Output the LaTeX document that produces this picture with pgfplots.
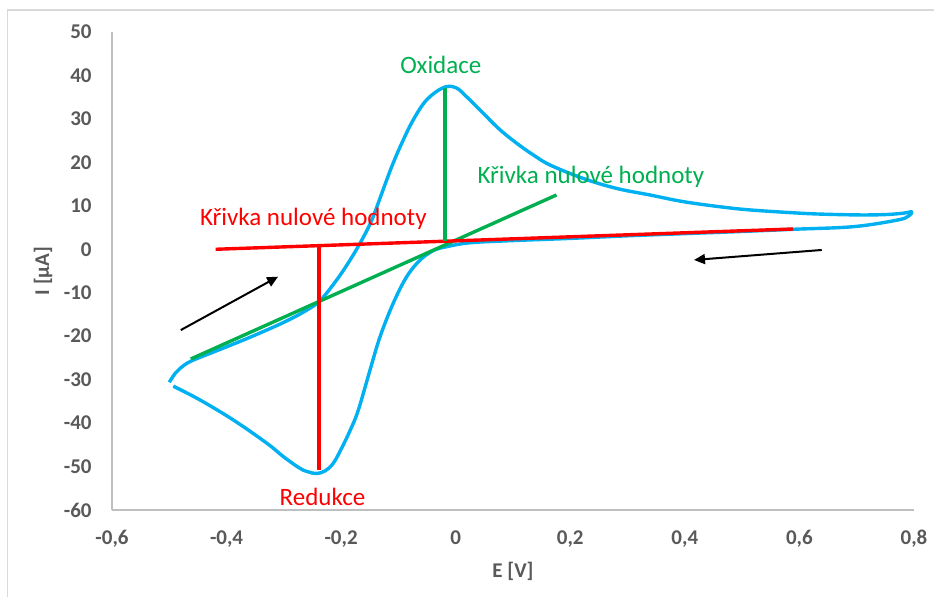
\documentclass[border=0pt]{standalone}
\usepackage{pgfplots}
\pgfplotsset{compat=1.18}
\usepackage{pgfplotstable}
\usepackage{fontspec}
\setmainfont{Carlito}
\usetikzlibrary{arrows.meta}

\definecolor{cvblue}{HTML}{00B0F0}
\definecolor{basegreen}{HTML}{00B050}
\definecolor{basered}{HTML}{FF0000}
\definecolor{ticktext}{HTML}{595959}
\definecolor{axisgrey}{HTML}{BFBFBF}
\definecolor{framegrey}{HTML}{D9D9D9}

% cyclic voltammogram: forward scan (upper branch) then reverse scan (lower branch)
\pgfplotstableread{
E I
-0.500 -30.6
-0.490 -28.6
-0.481 -27.4
-0.463 -25.8
-0.420 -23.5
-0.360 -20.3
-0.300 -16.8
-0.260 -14.0
-0.236 -11.7
-0.208 -7.1
-0.1845 -2.5
-0.164 2.1
-0.1466 6.7
-0.129 12.9
-0.1117 19.0
-0.0942 24.4
-0.074 29.8
-0.0506 34.4
-0.0216 37.2
0.000 37.2
0.019 35.1
0.048 31.3
0.0773 27.5
0.1065 24.4
0.1355 21.7
0.1646 19.4
0.2227 16.3
0.281 14.0
0.339 12.5
0.400 10.9
0.473 9.6
0.519 9.0
0.589 8.4
0.636 8.1
0.706 7.9
0.752 8.0
0.781 8.3
0.796 8.6
0.790 7.6
0.770 6.7
0.694 5.2
0.589 4.6
0.500 4.1
0.400 3.6
0.300 3.1
0.200 2.5
0.100 2.0
0.025 1.5
-0.0157 0.6
-0.039 -0.3
-0.0623 -2.5
-0.0855 -6.3
-0.109 -12.4
-0.132 -20.1
-0.1496 -27.8
-0.170 -37.0
-0.184 -41.6
-0.200 -46.0
-0.214 -49.3
-0.228 -51.0
-0.243 -51.6
-0.258 -51.2
-0.272 -50.4
-0.300 -47.8
-0.330 -44.6
-0.388 -39.3
-0.446 -34.7
-0.493 -31.5
}\cvdata

\begin{document}
\begin{tikzpicture}[x=1pt,y=1pt]
\useasboundingbox (-56,-43) rectangle (411,255);
% chart area frame
\draw[framegrey, line width=0.6pt] (-52.3,-60) -- (-52.3,250) -- (430,250);
\begin{axis}[
  at={(0pt,0pt)}, anchor=south west,
  scale only axis, width=401pt, height=239pt,
  xmin=-0.6, xmax=0.8, ymin=-60, ymax=50,
  clip=false,
  axis lines=left,
  axis line style={-, axisgrey, line width=0.7pt},
  major tick length=0pt,
  tick style={draw=none},
  xtick={-0.6,-0.4,-0.2,0,0.2,0.4,0.6,0.8},
  xticklabels={{-0,6},{-0,4},{-0,2},{0},{0,2},{0,4},{0,6},{0,8}},
  ytick={-60,-50,-40,-30,-20,-10,0,10,20,30,40,50},
  yticklabels={{-60},{-50},{-40},{-30},{-20},{-10},{0},{10},{20},{30},{40},{50}},
  tick label style={font=\fontsize{10.5}{12}\selectfont\bfseries, text=ticktext, inner sep=0pt},
  x tick label style={anchor=base, yshift=-17.3pt},
  y tick label style={anchor=east, xshift=-10pt},
  xlabel={E [V]}, ylabel={I [µA]},
  label style={font=\fontsize{10.5}{12}\selectfont\bfseries, text=ticktext},
  xlabel style={at={(axis description cs:0.5,-0.1276)}, anchor=center},
  ylabel style={at={(axis description cs:-0.086,0.5)}, anchor=center},
]
\addplot[cvblue, line width=1.7pt, line join=round, smooth, tension=0.6] table[x=E, y=I] {\cvdata};

% baselines and peak heights
\addplot[basegreen, line width=1.7pt] coordinates {(-0.4625,-25.25) (0.176,12.5)};
\addplot[basered, line width=1.7pt] coordinates {(-0.419,0) (0.589,4.67)};
\addplot[basered, line width=1.7pt] coordinates {(-0.2386,0.84) (-0.2386,-50.8)};
\addplot[basegreen, line width=1.7pt] coordinates {(-0.0187,1.8) (-0.0187,37.1)};

% scan direction
\addplot[black, line width=1pt, -{Triangle[length=5.5pt,width=5pt]}] coordinates {(-0.48,-18.6) (-0.31,-6.3)};
\addplot[black, line width=1pt, -{Triangle[length=5.5pt,width=5pt]}] coordinates {(0.639,-0.16) (0.416,-2.46)};

\node[basegreen, font=\fontsize{12.5}{14}\selectfont] at (axis cs:-0.026,42.4) {Oxidace};
\node[basegreen, font=\fontsize{12.5}{14}\selectfont] at (axis cs:0.236,16.6) {Křivka nulové hodnoty};
\node[basered, font=\fontsize{12.5}{14}\selectfont] at (axis cs:-0.2485,7.0) {Křivka nulové hodnoty};
\node[basered, font=\fontsize{12.5}{14}\selectfont] at (axis cs:-0.2325,-57.1) {Redukce};
\end{axis}
\end{tikzpicture}
\end{document}
